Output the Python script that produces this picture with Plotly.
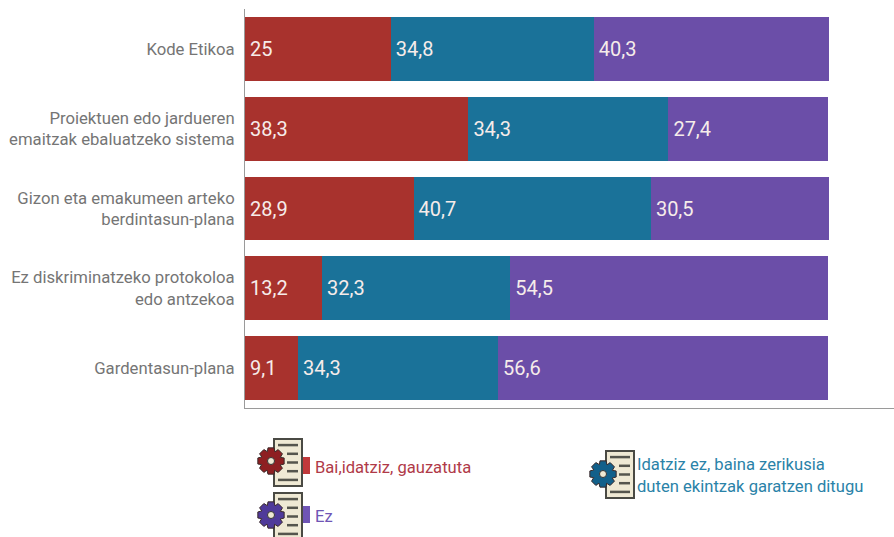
import math
import plotly.graph_objects as go

categories = ["Kode Etikoa", "Proiektuen edo jardueren<br>emaitzak ebaluatzeko sistema",
              "Gizon eta emakumeen arteko<br>berdintasun-plana",
              "Ez diskriminatzeko protokoloa<br>edo antzekoa", "Gardentasun-plana"]
bai = [25, 38.3, 28.9, 13.2, 9.1]
idatziz_ez = [34.8, 34.3, 40.7, 32.3, 34.3]
ez = [40.3, 27.4, 30.5, 54.5, 56.6]
series_names = ["Bai,idatziz, gauzatuta", "Idatziz ez, baina zerikusia<br>duten ekintzak garatzen ditugu", "Ez"]
RED, BLUE, PURPLE = "#a8322d", "#1a7299", "#6b4ea8"
W, H = 894, 537
ML, MT, MB = 245, 9, 129
FONT = "Roboto"

def fmt(v):
    return "\u200a" + f"{v:g}".replace(".", ",")

fig = go.Figure()
for name, vals, col in zip(series_names, [bai, idatziz_ez, ez], [RED, BLUE, PURPLE]):
    fig.add_trace(go.Bar(y=categories, x=vals, name=name, orientation="h",
                         marker=dict(color=col, line=dict(width=0)),
                         text=[fmt(v) for v in vals], textposition="inside",
                         insidetextanchor="start", textangle=0,
                         insidetextfont=dict(family=FONT, size=20, color="#f6ecea")))

# legend artwork is placed in pixels and converted to the plot area's paper fractions
def px(x): return (x - ML) / (W - ML)
def py(y): return (H - MB - y) / (H - MB - MT)
def rect(x0, y0, x1, y1, fill, line=None, lw=0):
    fig.add_shape(type="rect", xref="paper", yref="paper", x0=px(x0), x1=px(x1), y0=py(y0), y1=py(y1),
                  fillcolor=fill, line=dict(color=line or fill, width=lw))

def icon(dx0, dy0, dx1, dy1, gx, gy, col):
    rect(dx0, dy0, dx1, dy1, "#efe9d4", "#4a4a44", 2)
    n = 5
    for i in range(n):
        y = dy0 + (dy1 - dy0) * (i + 0.7) / (n + 0.4)
        x0 = dx0 + 4 if i in (0, n - 1) else dx0 + 13
        fig.add_shape(type="line", xref="paper", yref="paper", x0=px(x0), x1=px(dx1 - 4), y0=py(y), y1=py(y),
                      line=dict(color="#55554d", width=2.5))
    pts = []
    for k in range(8):
        for a, r in [(-13, 13.5), (13, 13.5), (24, 10)]:
            ang = math.radians(k * 45 + a)
            pts.append((gx + r * math.cos(ang), gy + r * math.sin(ang)))
    path = "M" + " L".join(f"{px(x):.5f},{py(y):.5f}" for x, y in pts) + " Z"
    fig.add_shape(type="path", xref="paper", yref="paper", path=path, fillcolor=col, line=dict(color="#3a2a2a", width=1))
    fig.add_shape(type="circle", xref="paper", yref="paper", x0=px(gx - 3.5), x1=px(gx + 3.5),
                  y0=py(gy + 3.5), y1=py(gy - 3.5), fillcolor="#efe9d4", line=dict(color="#333", width=1))

def label(x, y, text, col):
    fig.add_annotation(xref="paper", yref="paper", x=px(x), y=py(y), text=text, showarrow=False,
                       xanchor="left", yanchor="middle", align="left",
                       borderpad=0, borderwidth=0,
                       font=dict(family=FONT, size=16.6, color=col))

icon(274, 439, 302, 486, 271, 461, "#8e1f22")
rect(303, 457, 310, 474, "#c0393b")
label(315, 467, series_names[0], "#b03a48")
icon(274, 493, 302, 540, 271, 515, "#4f3a9a")
rect(303, 506, 310, 523, "#6f55b5")
label(315, 516, series_names[2], "#6f55b5")
icon(606, 451, 634, 498, 603, 474, "#12608a")
label(637, 475, series_names[1], "#2a82a8")

fig.update_layout(
    width=W, height=H, barmode="stack", bargap=0.2, showlegend=False,
    margin=dict(l=ML, r=0, t=MT, b=MB), paper_bgcolor="white", plot_bgcolor="white",
    font=dict(family=FONT),
    xaxis=dict(range=[0, 111.3], showgrid=False, zeroline=False, showticklabels=False, ticks="",
               showline=True, linecolor="#9a9a9a", linewidth=1),
    yaxis=dict(autorange="reversed", showgrid=False, zeroline=False, ticks="outside", ticklen=6,
               tickcolor="rgba(0,0,0,0)", showline=True, linecolor="#9a9a9a", linewidth=1,
               tickfont=dict(family=FONT, size=16.7, color="#757575")),
)
fig.write_html("out.html", config={"displayModeBar": False}, post_script="document.body.style.margin='0';")
